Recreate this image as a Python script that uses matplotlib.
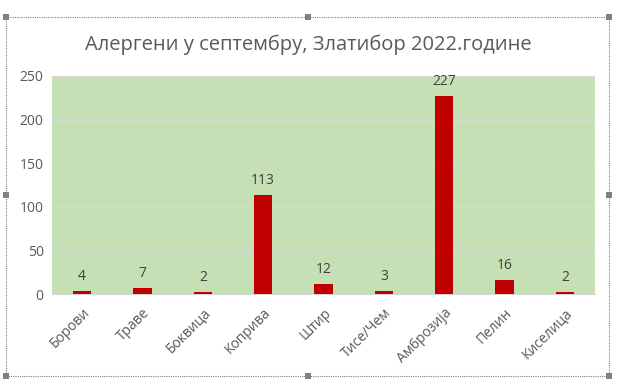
import matplotlib
matplotlib.use("Agg")
import matplotlib.pyplot as plt
from matplotlib.patches import Rectangle

plt.rcParams['font.family'] = ['Open Sans', 'DejaVu Sans']

categories = ["Борови", "Траве", "Боквица", "Коприва", "Штир", "Тисе/Чем", "Амброзија", "Пелин", "Киселица"]
values = [4, 7, 2, 113, 12, 3, 227, 16, 2]
title = "Алергени у септембру, Златибор 2022.године"
yticks = [0, 50, 100, 150, 200, 250]

W, H = 619, 391
fig = plt.figure(figsize=(W/100, H/100), dpi=100)
ax = fig.add_axes([52/W, 1-294/H, (595-52)/W, (294-76)/H])
ax.set_facecolor('#C5E0B4')
x = range(len(categories))
ax.bar(x, values, width=0.3, color='#C00000', zorder=3)
for xi, v in zip(x, values):
    ax.text(xi, v + 8, str(v), ha='center', va='bottom', fontsize=10, color='#404040')
ax.set_xlim(-0.5, len(categories) - 0.5)
ax.set_ylim(0, 250)
ax.set_yticks(yticks)
ax.set_yticklabels([str(t) for t in yticks], fontsize=10, color='#595959')
ax.set_xticks(list(x))
ax.set_xticklabels(categories, rotation=45, ha='right', rotation_mode='anchor', fontsize=10, color='#595959')
ax.tick_params(length=0, pad=6)
ax.tick_params(axis='x', pad=8)
ax.grid(axis='y', color='#D9D9D9', linewidth=1, zorder=1)
for s in ax.spines.values():
    s.set_visible(False)
ax.spines['bottom'].set_visible(True)
ax.spines['bottom'].set_color('#D9D9D9')

fig.text(308/W, 1-45/H, title, ha='center', va='center', fontsize=14.5, color='#595959')

# dashed selection frame with handles
l, t, r, b = 6, 17, 609, 376
fig.patches.append(Rectangle((l/W, 1-b/H), (r-l)/W, (b-t)/H, transform=fig.transFigure,
                             fill=False, edgecolor='#808080', linestyle=(0, (1, 1)), linewidth=0.8))
hs = 6
for hx, hy in [(l, t), (308, t), (r, t), (l, 195), (r, 195), (l, b), (308, b), (r, b)]:
    fig.patches.append(Rectangle(((hx-hs/2)/W, 1-(hy+hs/2)/H), hs/W, hs/H, transform=fig.transFigure,
                                 facecolor='#808080', edgecolor='none'))

fig.savefig('out.png', dpi=100)
